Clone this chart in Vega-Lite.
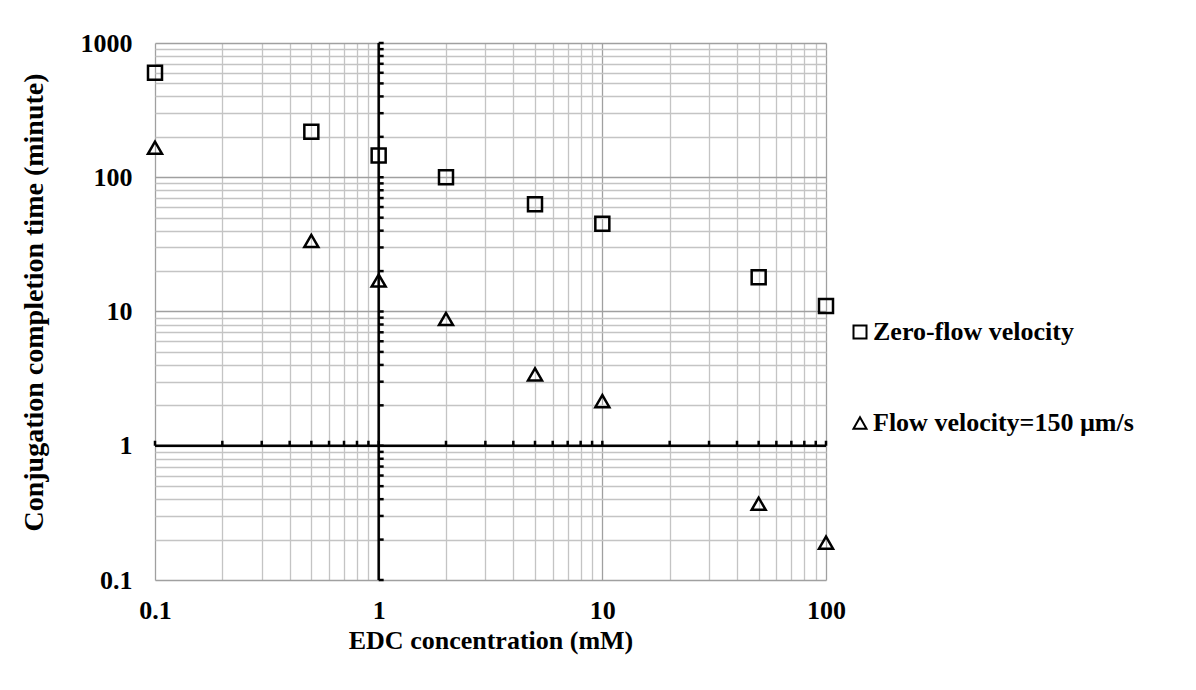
{
  "$schema": "https://vega.github.io/schema/vega-lite/v6.json",
  "autosize": "none",
  "width": 671,
  "height": 537,
  "padding": {"left": 155, "top": 43, "right": 370, "bottom": 110},
  "background": "white",
  "config": {
    "view": {"stroke": null},
    "font": "Liberation Serif",
    "axis": {
      "labelFont": "Liberation Serif",
      "labelFontWeight": "bold",
      "labelFontSize": 26,
      "labelColor": "black",
      "titleFont": "Liberation Serif",
      "titleFontWeight": "bold",
      "titleFontSize": 26,
      "titleColor": "black",
      "domain": false,
      "ticks": false,
      "labelOverlap": false,
      "labelFlush": false,
      "gridWidth": 1.3
    },
    "legend": {
      "labelFont": "Liberation Serif",
      "labelFontWeight": "bold",
      "labelFontSize": 26,
      "labelColor": "black",
      "labelLimit": 0
    }
  },
  "datasets": {
    "points": [
      {"edc": 0.1, "time": 600, "series": "Zero-flow velocity"},
      {"edc": 0.5, "time": 218, "series": "Zero-flow velocity"},
      {"edc": 1, "time": 145, "series": "Zero-flow velocity"},
      {"edc": 2, "time": 100, "series": "Zero-flow velocity"},
      {"edc": 5, "time": 63, "series": "Zero-flow velocity"},
      {"edc": 10, "time": 45, "series": "Zero-flow velocity"},
      {"edc": 50, "time": 18, "series": "Zero-flow velocity"},
      {"edc": 100, "time": 11, "series": "Zero-flow velocity"},
      {"edc": 0.1, "time": 166, "series": "Flow velocity=150 µm/s"},
      {"edc": 0.5, "time": 33.5, "series": "Flow velocity=150 µm/s"},
      {"edc": 1, "time": 17, "series": "Flow velocity=150 µm/s"},
      {"edc": 2, "time": 8.8, "series": "Flow velocity=150 µm/s"},
      {"edc": 5, "time": 3.4, "series": "Flow velocity=150 µm/s"},
      {"edc": 10, "time": 2.15, "series": "Flow velocity=150 µm/s"},
      {"edc": 50, "time": 0.37, "series": "Flow velocity=150 µm/s"},
      {"edc": 100, "time": 0.19, "series": "Flow velocity=150 µm/s"}
    ],
    "xticks": [
      {"v": 0.1}, {"v": 0.2}, {"v": 0.3}, {"v": 0.4}, {"v": 0.5}, {"v": 0.6}, {"v": 0.7}, {"v": 0.8}, {"v": 0.9},
      {"v": 1}, {"v": 2}, {"v": 3}, {"v": 4}, {"v": 5}, {"v": 6}, {"v": 7}, {"v": 8}, {"v": 9},
      {"v": 10}, {"v": 20}, {"v": 30}, {"v": 40}, {"v": 50}, {"v": 60}, {"v": 70}, {"v": 80}, {"v": 90},
      {"v": 100}
    ],
    "yticks": [
      {"v": 0.1}, {"v": 0.2}, {"v": 0.3}, {"v": 0.4}, {"v": 0.5}, {"v": 0.6}, {"v": 0.7}, {"v": 0.8}, {"v": 0.9},
      {"v": 1}, {"v": 2}, {"v": 3}, {"v": 4}, {"v": 5}, {"v": 6}, {"v": 7}, {"v": 8}, {"v": 9},
      {"v": 10}, {"v": 20}, {"v": 30}, {"v": 40}, {"v": 50}, {"v": 60}, {"v": 70}, {"v": 80}, {"v": 90},
      {"v": 100}, {"v": 200}, {"v": 300}, {"v": 400}, {"v": 500}, {"v": 600}, {"v": 700}, {"v": 800}, {"v": 900},
      {"v": 1000}
    ]
  },
  "layer": [
    {
      "data": {"name": "points"},
      "mark": {"type": "point", "filled": false, "stroke": "black", "strokeWidth": 2.5, "size": 196, "opacity": 1},
      "encoding": {
        "x": {
          "field": "edc",
          "type": "quantitative",
          "scale": {"type": "log", "domain": [0.1, 100], "nice": false},
          "axis": {
            "title": "EDC concentration (mM)",
            "values": [0.1, 0.2, 0.3, 0.4, 0.5, 0.6, 0.7, 0.8, 0.9, 1, 2, 3, 4, 5, 6, 7, 8, 9, 10, 20, 30, 40, 50, 60, 70, 80, 90, 100],
            "format": "~g",
            "labelExpr": "indexof(['0.1','1','10','100'], datum.label) >= 0 ? datum.label : ''",
            "labelPadding": 17,
            "titlePadding": 4,
            "grid": true,
            "gridColor": {"condition": {"test": "indexof([0.1, 1, 10, 100], datum.value) >= 0", "value": "#a0a0a0"}, "value": "#c4c4c4"}
          }
        },
        "y": {
          "field": "time",
          "type": "quantitative",
          "scale": {"type": "log", "domain": [0.1, 1000], "nice": false},
          "axis": {
            "title": "Conjugation completion time (minute)",
            "titleFontSize": 28,
            "titleY": 259,
            "values": [0.1, 0.2, 0.3, 0.4, 0.5, 0.6, 0.7, 0.8, 0.9, 1, 2, 3, 4, 5, 6, 7, 8, 9, 10, 20, 30, 40, 50, 60, 70, 80, 90, 100, 200, 300, 400, 500, 600, 700, 800, 900, 1000],
            "format": "~g",
            "labelExpr": "indexof(['0.1','1','10','100','1000'], datum.label) >= 0 ? datum.label : ''",
            "labelPadding": 23,
            "titlePadding": 32,
            "grid": true,
            "gridColor": {"condition": {"test": "indexof([0.1, 1, 10, 100, 1000], datum.value) >= 0", "value": "#a0a0a0"}, "value": "#c4c4c4"}
          }
        },
        "shape": {
          "field": "series",
          "type": "nominal",
          "scale": {"domain": ["Zero-flow velocity", "Flow velocity=150 µm/s"], "range": ["square", "triangle-up"]},
          "legend": {
            "title": null,
            "orient": "none",
            "legendX": 692,
            "legendY": 276,
            "padding": 0,
            "rowPadding": 65,
            "symbolSize": 169,
            "symbolStrokeWidth": 2,
            "symbolStrokeColor": "black",
            "symbolFillColor": "transparent",
            "labelOffset": 0
          }
        }
      }
    },
    {
      "data": {"values": [{"v": 1}]},
      "mark": {"type": "rule", "color": "black", "strokeWidth": 2.5},
      "encoding": {"x": {"field": "v", "type": "quantitative"}}
    },
    {
      "data": {"values": [{"v": 1}]},
      "mark": {"type": "rule", "color": "black", "strokeWidth": 2.5},
      "encoding": {"y": {"field": "v", "type": "quantitative"}}
    },
    {
      "data": {"name": "yticks"},
      "mark": {"type": "point", "shape": "M0,0H1", "filled": false, "stroke": "black", "strokeWidth": 2.5, "size": 100, "opacity": 1},
      "encoding": {
        "x": {"datum": 1, "type": "quantitative"},
        "y": {"field": "v", "type": "quantitative"}
      }
    },
    {
      "data": {"name": "xticks"},
      "mark": {"type": "point", "shape": "M0,0V-1", "filled": false, "stroke": "black", "strokeWidth": 2.5, "size": 100, "opacity": 1},
      "encoding": {
        "x": {"field": "v", "type": "quantitative"},
        "y": {"datum": 1, "type": "quantitative"}
      }
    }
  ]
}
